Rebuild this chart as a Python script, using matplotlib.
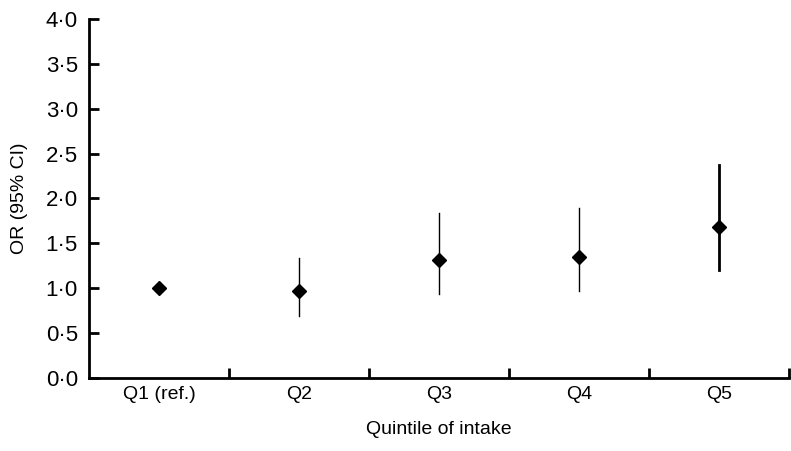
import numpy as np
import matplotlib.pyplot as plt
from matplotlib.ticker import FuncFormatter

plt.rcParams['font.family'] = ['Liberation Sans', 'DejaVu Sans']

categories = ['Q1 (ref.)', 'Q2', 'Q3', 'Q4', 'Q5']
odds = [1.00, 0.97, 1.31, 1.35, 1.68]
ci_low = [1.00, 0.69, 0.94, 0.97, 1.20]
ci_high = [1.00, 1.34, 1.84, 1.89, 2.37]
bar_widths = [1.0, 1.0, 1.0, 1.0, 2.0]

fig = plt.figure(figsize=(7.91, 4.51), dpi=100)
ax = fig.add_axes([0.1125, 0.162, 0.885, 0.796])

x = np.arange(len(categories))
for i in x:
    if ci_high[i] > ci_low[i]:
        ax.plot([i, i], [ci_low[i], ci_high[i]], color='black', lw=bar_widths[i])
ax.plot(x, odds, 'D', color='black', markersize=7, linestyle='none')

ax.set_xlim(-0.5, len(categories) - 0.5)
ax.set_ylim(0, 4.0)
ax.set_yticks(np.arange(0, 4.01, 0.5))
ax.yaxis.set_major_formatter(FuncFormatter(lambda v, p: f'{v:.1f}'.replace('.', '\u00b7')))

ax.set_xticks(x)
ax.set_xticklabels(categories, fontsize=14)
ax.set_xticks(np.arange(0.5, len(categories), 1.0), minor=True)
ax.tick_params(axis='x', which='major', length=0, pad=6)
ax.tick_params(axis='x', which='minor', direction='in', length=7, width=2)
ax.tick_params(axis='y', direction='in', length=7, width=2, labelsize=16, pad=8)

for s in ['top', 'right']:
    ax.spines[s].set_visible(False)
for s in ['left', 'bottom']:
    ax.spines[s].set_linewidth(2)

ax.set_xlabel('Quintile of intake', fontsize=14, labelpad=13)
ax.set_ylabel('OR (95% CI)', fontsize=14, labelpad=13)

fig.savefig('out.png', dpi=100)
